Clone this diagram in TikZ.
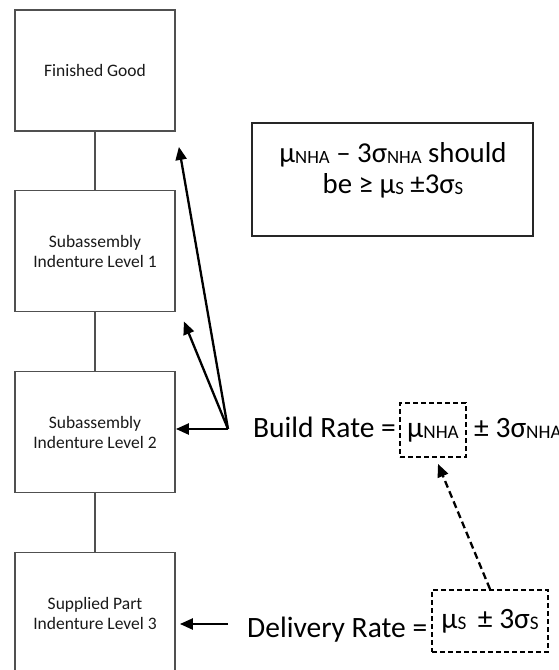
\documentclass[tikz,border=0pt]{standalone}
\usepackage{fontspec}
\setmainfont{Carlito}
\usetikzlibrary{arrows.meta,calc}
\definecolor{boxgray}{RGB}{80,80,80}
\makeatletter
% small capital-letter index set slightly below the baseline
\newcommand\lowsub[1]{\raisebox{-0.12ex}{\fontsize{\the\dimexpr0.65\dimexpr\f@size pt\relax\relax}{0pt}\selectfont #1}}
\makeatother

\begin{document}
\begin{tikzpicture}[x=1pt,y=-1pt,
  level/.style={draw=boxgray, line width=1.8pt, minimum width=160pt, minimum height=121pt,
    inner sep=0pt, align=center, font=\fontsize{17.5}{20}\selectfont, text=black!90},
  link/.style={draw=boxgray, line width=1.8pt},
  pointer/.style={-{Triangle[length=13pt,width=11pt]}, line width=2.3pt},
  bigtext/.style={font=\fontsize{29.5}{34}\selectfont, inner sep=0pt},
  dashbox/.style={draw, line width=1.8pt, dash pattern=on 5pt off 3pt, inner sep=0pt,
    font=\fontsize{29.5}{34}\selectfont, text height=20pt, text depth=6pt},
]
\useasboundingbox (0,0) rectangle (558,670);

% indenture levels
\node[level] (fg) at (95,70.5) {Finished Good};
\node[level] (s1) at (95,251) {Subassembly\\Indenture Level 1};
\node[level] (s2) at (95,432) {Subassembly\\Indenture Level 2};
\node[level] (sp) at (95,613) {Supplied Part\\Indenture Level 3};
\draw[link] (fg) -- (s1);
\draw[link] (s1) -- (s2);
\draw[link] (s2) -- (sp);

% rule box
\node[draw=black!85, line width=1.2pt, minimum width=281pt, minimum height=113pt, inner sep=0pt] (rule) at (392.5,179.5) {};
\node[font=\fontsize{28.8}{31}\selectfont, align=center, anchor=base, inner sep=0pt] (ruletext) at (393,193)
  {µ\lowsub{NHA} – 3σ\lowsub{NHA} should\\be ≥ µ\lowsub{S} ±3σ\lowsub{S}};

% build rate
\node[bigtext, anchor=base west] (brl) at (253,437) {Build Rate =};
\node[dashbox, minimum width=66pt, minimum height=54pt] (mu) at (433,430) {µ\lowsub{NHA}};
\node[bigtext, anchor=base west] (brr) at (474,437) {± 3σ\lowsub{NHA}};

\coordinate (hub) at (228,429);
\coordinate (tipa) at ($(s1.south east)+(8,9)$);
\coordinate (tipb) at ($(fg.south east)+(3,15)$);
\draw[pointer] (hub) -- (hub -| s2.east);
\draw[pointer] (hub) -- (tipa);
\draw[pointer] (hub) -- (tipb);

% delivery rate
\node[bigtext, anchor=base west] (drl) at (247,637) {Delivery Rate =};
\node[dashbox, minimum width=116pt, minimum height=62pt] (ds) at (490,621) {µ\lowsub{S}\, ± 3σ\lowsub{S}};
\coordinate (dtail) at (228,624);
\draw[pointer] (dtail) -- ([xshift=4pt]dtail -| sp.east);

\coordinate (mutip) at ($(mu.south)+(5,6)$);
\draw[pointer, dash pattern=on 7pt off 4pt] (ds.north) -- (mutip);
\end{tikzpicture}
\end{document}
